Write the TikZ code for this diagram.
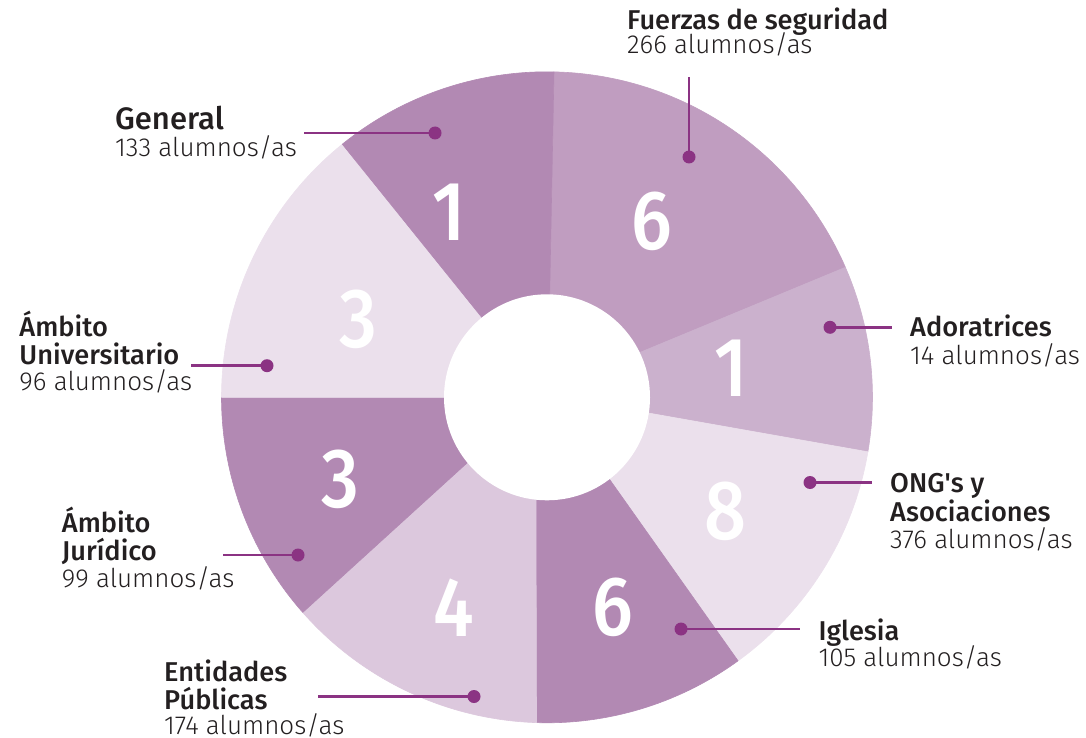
\documentclass[tikz,border=0pt]{standalone}
\usepackage{fontspec}
\setmainfont{Fira Sans}
\newfontfamily\lightf{Fira Sans Light}
\newfontfamily\medf{Fira Sans Medium}
\usetikzlibrary{calc}
\definecolor{segA}{RGB}{178,137,179}
\definecolor{segB}{RGB}{192,157,192}
\definecolor{segC}{RGB}{203,177,205}
\definecolor{segD}{RGB}{235,224,236}
\definecolor{segE}{RGB}{220,200,221}
\definecolor{connc}{RGB}{139,51,131}
\definecolor{txt}{RGB}{35,31,32}
\begin{document}
\begin{tikzpicture}[x=1pt,y=-1pt,
  segfill/.style={fill=#1,draw=#1,line width=0.6pt,line join=round},
  conn/.style={draw=connc,line width=2.6pt},
  dot/.style={circle,fill=connc,inner sep=0pt,minimum size=13pt},
  lab/.style={anchor=base west,inner sep=0pt,text=txt,font=\medf\fontsize{27.2}{30}\selectfont},
  labbig/.style={anchor=base west,inner sep=0pt,text=txt,font=\medf\fontsize{31}{36}\selectfont},
  cnt/.style={anchor=base west,inner sep=0pt,text=txt,font=\lightf\fontsize{26}{30}\selectfont},
  big/.style={inner sep=0pt,text=white,font=\medf\fontsize{84}{90}\selectfont}]
\useasboundingbox (0,0) rectangle (1086,738);
\def\R{325.5}
\newcommand\bignum[1]{\scalebox{0.88}[1]{#1}}
\coordinate (C) at (547,397.3);
\coordinate (I0) at (549.7,293);
\coordinate (I1) at (641.7,351.7);
\coordinate (I2) at (650,413.3);
\coordinate (I3) at (610,480);
\coordinate (I4) at (536,500);
\coordinate (I5) at (467.3,462.7);
\coordinate (I6) at (444.3,397.3);
\coordinate (I7) at (480.7,316);
% segments
\filldraw[segfill=segB] (I0) -- ($(C)+(-88.77:\R)$) arc[start angle=-88.77,end angle=-23.54,radius=\R] -- (I1) -- (C) -- cycle;
\filldraw[segfill=segC] (I1) -- ($(C)+(-23.54:\R)$) arc[start angle=-23.54,end angle=9.64,radius=\R] -- (I2) -- (C) -- cycle;
\filldraw[segfill=segD] (I2) -- ($(C)+(9.64:\R)$) arc[start angle=9.64,end angle=54.06,radius=\R] -- (I3) -- (C) -- cycle;
\filldraw[segfill=segA] (I3) -- ($(C)+(54.06:\R)$) arc[start angle=54.06,end angle=91.85,radius=\R] -- (I4) -- (C) -- cycle;
\filldraw[segfill=segE] (I4) -- ($(C)+(91.85:\R)$) arc[start angle=91.85,end angle=138.63,radius=\R] -- (I5) -- (C) -- cycle;
\filldraw[segfill=segA] (I5) -- ($(C)+(138.63:\R)$) arc[start angle=138.63,end angle=180,radius=\R] -- (I6) -- (C) -- cycle;
\filldraw[segfill=segD] (I6) -- ($(C)+(180:\R)$) arc[start angle=180,end angle=231.04,radius=\R] -- (I7) -- (C) -- cycle;
\filldraw[segfill=segA] (I7) -- ($(C)+(231.04:\R)$) arc[start angle=231.04,end angle=271.23,radius=\R] -- (I0) -- (C) -- cycle;
\fill[white] (C) circle[radius=103];
% big numbers
\node[big] (n1) at (449,212) {\bignum{1}};
\node[big] (n2) at (652,221) {\bignum{6}};
\node[big] (n3) at (731,368) {\bignum{1}};
\node[big] (n4) at (725,511) {\bignum{8}};
\node[big] (n5) at (613,607) {\bignum{6}};
\node[big] (n6) at (454,608) {\bignum{4}};
\node[big] (n7) at (340,479) {\bignum{3}};
\node[big] (n8) at (358,319) {\bignum{3}};
% connectors
\node[dot] (dgen) at (435,133) {};
\coordinate (egen) at (304,133);
\node[dot] (dfue) at (689,157) {};
\coordinate (efue) at (689,77);
\node[dot] (dado) at (830,327.3) {};
\coordinate (eado) at (892,327.3);
\node[dot] (dong) at (810,482.5) {};
\coordinate (eong) at (872,482.5);
\node[dot] (digl) at (681,629) {};
\coordinate (eigl) at (799.5,629);
\node[dot] (dent) at (474,696.5) {};
\coordinate (eent) at (318,696.5);
\node[dot] (djur) at (298,555) {};
\coordinate (ejur) at (222.5,555);
\node[dot] (duni) at (267,365.7) {};
\coordinate (euni) at (191,365.7);
\foreach \a in {gen,fue,ado,ong,igl,ent,jur,uni}{\draw[conn] (d\a.center) -- (e\a);}
% labels
\node[labbig] (tgen1) at (115,130) {General};
\node[cnt] (tgen2) at (115,156.7) {133 alumnos/as};
\node[lab] (tfue1) at (627,29.3) {Fuerzas de seguridad};
\node[cnt] (tfue2) at (627,53.3) {266 alumnos/as};
\node[lab] (tado1) at (910,336.7) {Adoratrices};
\node[cnt] (tado2) at (910,364) {14 alumnos/as};
\node[lab] (tong1) at (890,492.7) {ONG\textquotesingle s y};
\node[lab] (tong2) at (890,521.7) {Asociaciones};
\node[cnt] (tong3) at (890,548.3) {376 alumnos/as};
\node[lab] (tigl1) at (818.3,640) {Iglesia};
\node[cnt] (tigl2) at (818.3,666) {105 alumnos/as};
\node[lab] (tent1) at (164,681.7) {Entidades};
\node[lab] (tent2) at (164,709.3) {Públicas};
\node[cnt] (tent3) at (164,734) {174 alumnos/as};
\node[lab] (tuni1) at (19.3,336.7) {Ámbito};
\node[lab] (tuni2) at (19.3,364) {Universitario};
\node[cnt] (tuni3) at (19.3,390.7) {96 alumnos/as};
\node[lab] (tjur1) at (61.7,532.3) {Ámbito};
\node[lab] (tjur2) at (61.7,560) {Jurídico};
\node[cnt] (tjur3) at (61.7,587.3) {99 alumnos/as};
\end{tikzpicture}
\end{document}
